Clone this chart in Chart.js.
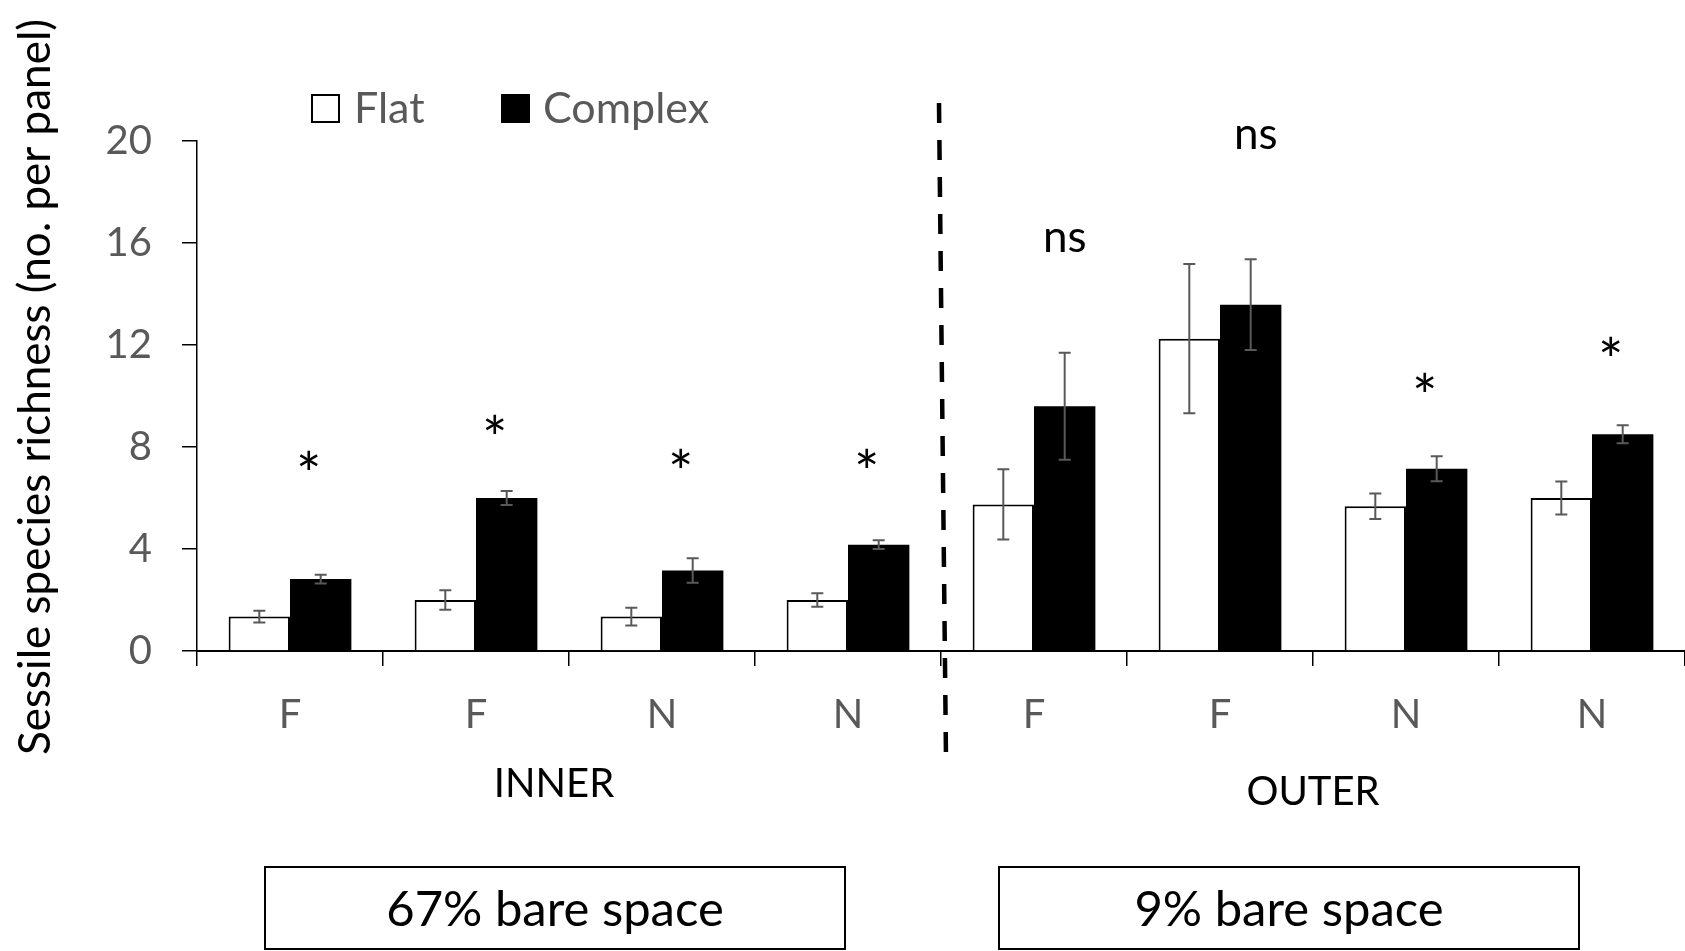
<!DOCTYPE html>
<html>
<head>
<meta charset="utf-8">
<script src="https://cdn.jsdelivr.net/npm/chart.js@4.4.1/dist/chart.umd.min.js"></script>
<style>
    html, body { margin: 0; padding: 0; background: #fff; }
    #wrap { width: 1685px; height: 951px; position: relative; }
</style>
</head>
<body>
<div id="wrap"><canvas id="richnessChart"></canvas></div>
<script>
// =========================
// Data
// =========================

const categories = ['F', 'F', 'N', 'N', 'F', 'F', 'N', 'N'];
const flatMean = [1.35, 2.0, 1.35, 2.0, 5.75, 12.25, 5.68, 6.0];
const flatErr = [0.23, 0.38, 0.35, 0.26, 1.38, 2.93, 0.5, 0.65];
const complexMean = [2.82, 6.0, 3.16, 4.17, 9.6, 13.58, 7.15, 8.5];
const complexErr = [0.17, 0.27, 0.48, 0.17, 2.1, 1.78, 0.49, 0.35];
const sigLabels = ['*', '*', '*', '*', 'ns', 'ns', '*', '*'];
const sigY = [7.5, 8.9, 7.58, 7.58, 16.08, 20.12, 10.56, 11.96];
const yTicks = [0, 4, 8, 12, 16, 20];
const siteLabels = ['INNER', 'OUTER'];
const spaceLabels = ['67% bare space', '9% bare space'];
const seriesNames = ['Flat', 'Complex'];

const FONT = 'Lato';
const GREY = '#595959';

function drawInkCentered(ctx, text, x, y) {
    const m = ctx.measureText(text);
    ctx.textBaseline = 'alphabetic';
    ctx.fillText(text, x, y + (m.actualBoundingBoxAscent - m.actualBoundingBoxDescent) / 2);
}

// =========================
// Extras: error bars, labels, divider, legend, boxes
// =========================

const extras = {
    id: 'extras',
    afterDatasetsDraw(chart) {
        const ctx = chart.ctx;
        const y = chart.scales.y;
        const errs = [flatErr, complexErr];
        const means = [flatMean, complexMean];
        ctx.save();
        ctx.strokeStyle = GREY;
        ctx.lineWidth = 2;
        [0, 1].forEach(d => {
            chart.getDatasetMeta(d).data.forEach((bar, i) => {
                const top = y.getPixelForValue(means[d][i] + errs[d][i]);
                const bot = y.getPixelForValue(means[d][i] - errs[d][i]);
                ctx.beginPath();
                ctx.moveTo(bar.x, top); ctx.lineTo(bar.x, bot);
                ctx.moveTo(bar.x - 6, top); ctx.lineTo(bar.x + 6, top);
                ctx.moveTo(bar.x - 6, bot); ctx.lineTo(bar.x + 6, bot);
                ctx.stroke();
            });
        });
        ctx.restore();
    },
    afterDraw(chart) {
        const ctx = chart.ctx;
        const x = chart.scales.x;
        const y = chart.scales.y;
        ctx.save();

        // significance labels over complex bars
        ctx.fillStyle = '#000';
        ctx.textAlign = 'center';
        chart.getDatasetMeta(1).data.forEach((bar, i) => {
            const star = sigLabels[i] === '*';
            ctx.font = star ? '60px ' + FONT : '44px ' + FONT;
            const dx = star ? -12 : (i === 5 ? 5 : 0);
            drawInkCentered(ctx, sigLabels[i], bar.x + dx, y.getPixelForValue(sigY[i]));
        });

        // dashed divider between inner and outer
        const mid = (x.getPixelForValue(3) + x.getPixelForValue(4)) / 2;
        ctx.strokeStyle = '#000';
        ctx.lineWidth = 4.5;
        ctx.setLineDash([20, 17]);
        ctx.beginPath();
        ctx.moveTo(mid - 2, 103);
        ctx.lineTo(mid + 5, 758);
        ctx.stroke();
        ctx.setLineDash([]);

        // site labels
        ctx.font = '40px ' + FONT;
        ctx.textBaseline = 'alphabetic';
        ctx.fillText(siteLabels[0], (x.getPixelForValue(0) + x.getPixelForValue(3)) / 2 - 15, 797);
        ctx.fillText(siteLabels[1], (x.getPixelForValue(4) + x.getPixelForValue(7)) / 2, 805);

        // bare space boxes
        ctx.lineWidth = 2;
        const boxes = [[265, 867], [999, 867]];
        ctx.font = '49px ' + FONT;
        boxes.forEach((b, i) => {
            ctx.strokeRect(b[0], b[1], 580, 82);
            ctx.fillText(spaceLabels[i], b[0] + 290, 926);
        });

        // legend
        ctx.textAlign = 'left';
        ctx.font = '43px ' + FONT;
        const legend = [[312, 354, '#fff'], [502, 543, '#000']];
        legend.forEach((l, i) => {
            ctx.fillStyle = l[2];
            ctx.fillRect(l[0], 95, 27, 27);
            ctx.strokeStyle = '#000';
            ctx.lineWidth = 2;
            ctx.strokeRect(l[0], 95, 27, 27);
            ctx.fillStyle = GREY;
            ctx.fillText(seriesNames[i], l[1], 123);
        });

        // y-axis title
        ctx.fillStyle = '#000';
        ctx.font = '44px ' + FONT;
        ctx.translate(50, 755);
        ctx.rotate(-Math.PI / 2);
        ctx.fillText('Sessile species richness (no. per panel)', 0, 0);

        ctx.restore();
    }
};

// =========================
// Chart
// =========================

const ctx = document.getElementById('richnessChart');

new Chart(ctx, {
    type: 'bar',
    data: {
        labels: categories,
        datasets: [{
            label: seriesNames[0],
            data: flatMean,
            backgroundColor: '#fff',
            borderColor: '#000',
            borderWidth: 2,
            categoryPercentage: 0.66,
            barPercentage: 1.0
        }, {
            label: seriesNames[1],
            data: complexMean,
            backgroundColor: '#000',
            borderColor: '#000',
            borderWidth: 0,
            categoryPercentage: 0.66,
            barPercentage: 1.0
        }]
    },
    options: {
        responsive: true,
        maintainAspectRatio: false,
        animation: false,
        layout: { padding: { top: 141, right: 0, bottom: 0, left: 0 } },
        plugins: {
            legend: { display: false },
            tooltip: { enabled: false }
        },
        scales: {
            x: {
                afterFit: s => { s.height = 300; },
                grid: {
                    offset: true,
                    drawOnChartArea: false,
                    color: '#000',
                    lineWidth: 1.5,
                    tickLength: 15
                },
                border: { color: '#000', width: 2 },
                ticks: {
                    color: GREY,
                    padding: 25,
                    font: { family: FONT, size: 40 }
                }
            },
            y: {
                min: 0,
                max: 20,
                afterFit: s => { s.width = 197; },
                afterBuildTicks: s => { s.ticks = yTicks.map(v => ({ value: v })); },
                grid: {
                    drawOnChartArea: false,
                    color: '#000',
                    lineWidth: 1.5,
                    tickLength: 15
                },
                border: { color: '#000', width: 1.5 },
                ticks: {
                    color: GREY,
                    padding: 30,
                    font: { family: FONT, size: 40 }
                }
            }
        }
    },
    plugins: [extras]
});
</script>
</body>
</html>
